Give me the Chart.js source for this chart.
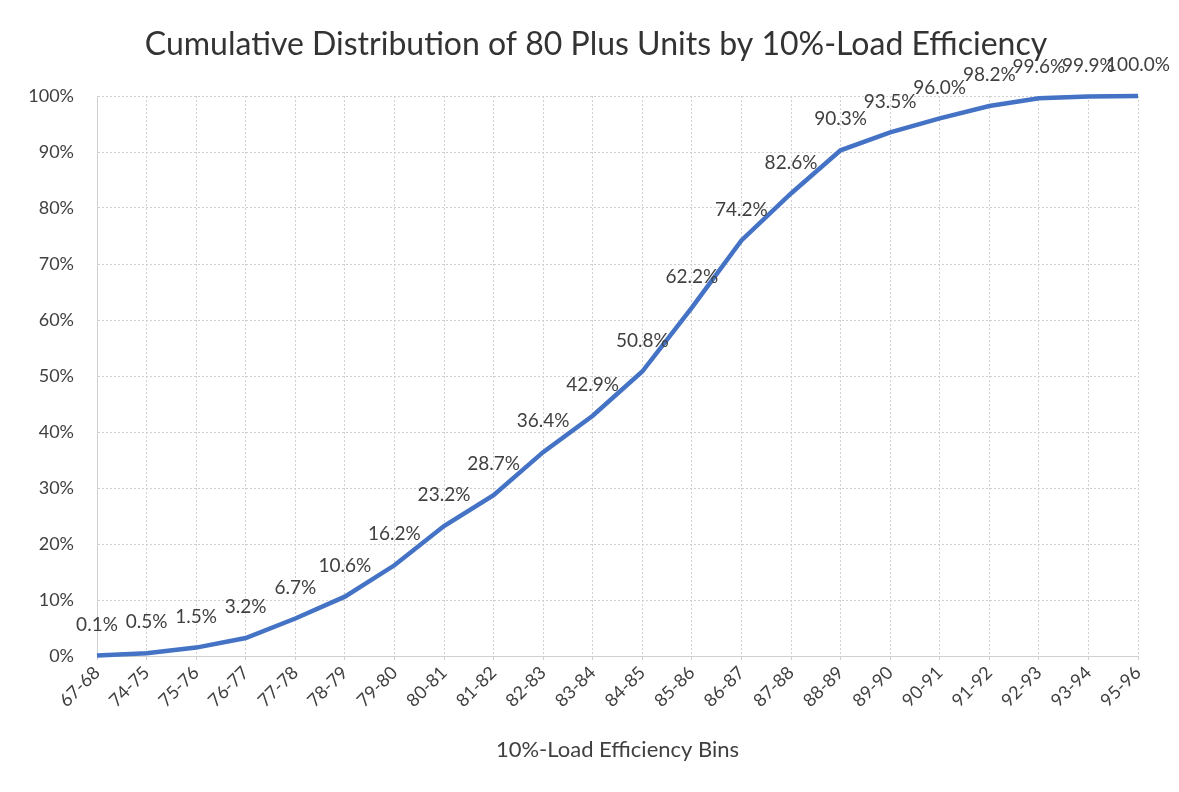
<!DOCTYPE html>
<html><head><meta charset="utf-8">
<script src="https://cdn.jsdelivr.net/npm/chart.js@4"></script>
<style>html,body{margin:0;padding:0;background:#fff}#wrap{width:1179px;height:792px}</style>
</head><body><div id="wrap"><canvas id="c" width="1179" height="792"></canvas></div>
<script>
const categories = ["67-68","74-75","75-76","76-77","77-78","78-79","79-80","80-81","81-82","82-83","83-84","84-85","85-86","86-87","87-88","88-89","89-90","90-91","91-92","92-93","93-94","95-96"];
const cumulativePct = [0.1,0.5,1.5,3.2,6.7,10.6,16.2,23.2,28.7,36.4,42.9,50.8,62.2,74.2,82.6,90.3,93.5,96.0,98.2,99.6,99.9,100.0];
const yTicks = [0,10,20,30,40,50,60,70,80,90,100];
const titleText = 'Cumulative Distribution of 80 Plus Units by 10%-Load Efficiency';
const FONT = "Lato, 'Open Sans', sans-serif";

Chart.defaults.scale.grid.borderDash = [2,2];

const labelPlugin = {
  id: 'pointLabels',
  afterDatasetsDraw(chart) {
    const ctx = chart.ctx;
    const meta = chart.getDatasetMeta(0);
    ctx.save();
    ctx.font = "19px " + FONT;
    ctx.fillStyle = "#404040";
    ctx.textAlign = "center";
    ctx.textBaseline = "middle";
    meta.data.forEach((pt, i) => {
      ctx.fillText(cumulativePct[i].toFixed(1) + "%", pt.x, pt.y - 31);
    });
    ctx.restore();
  }
};

const titlePlugin = {
  id: 'chartTitle',
  afterDraw(chart) {
    const ctx = chart.ctx;
    ctx.save();
    ctx.font = "32px " + FONT;
    ctx.fillStyle = "#333333";
    ctx.textAlign = "center";
    ctx.textBaseline = "middle";
    ctx.fillText(titleText, 596, 45);
    ctx.restore();
  }
};

new Chart(document.getElementById('c'), {
  type: 'line',
  data: {
    labels: categories,
    datasets: [{
      data: cumulativePct,
      borderColor: '#4472C4',
      borderWidth: 4.5,
      pointRadius: 0,
      tension: 0,
      fill: false,
      clip: false
    }]
  },
  options: {
    responsive: false,
    animation: false,
    layout: { padding: { left: 0, right: 41, top: 96, bottom: 0 } },
    plugins: {
      legend: { display: false },
      tooltip: { enabled: false },
      title: { display: false }
    },
    scales: {
      x: {
        offset: false,
        grid: { color: '#d0d0d0', tickLength: 4, drawTicks: true, borderDash: [2,2] },
        border: { display: true, color: '#d0d0d0', dash: [2,2] },
        ticks: {
          color: '#404040',
          font: { family: FONT, size: 18 },
          maxRotation: 45, minRotation: 45,
          autoSkip: false, padding: 2
        },
        title: {
          display: true,
          text: '10%-Load Efficiency Bins',
          color: '#404040',
          font: { family: FONT, size: 22 },
          padding: { top: 10, bottom: 29 }
        },
        afterFit(s) { s.height = 136; }
      },
      y: {
        min: 0, max: 100,
        afterBuildTicks(s) { s.ticks = yTicks.map(v => ({ value: v })); },
        grid: { color: '#d0d0d0', tickLength: 0, drawTicks: false, borderDash: [2,2] },
        border: { display: true, color: '#d0d0d0', dash: [2,2] },
        ticks: {
          color: '#404040',
          font: { family: FONT, size: 18 },
          padding: 23,
          callback: v => v + '%'
        },
        afterFit(s) { s.width = 97; }
      }
    }
  },
  plugins: [labelPlugin, titlePlugin]
});
</script></body></html>
